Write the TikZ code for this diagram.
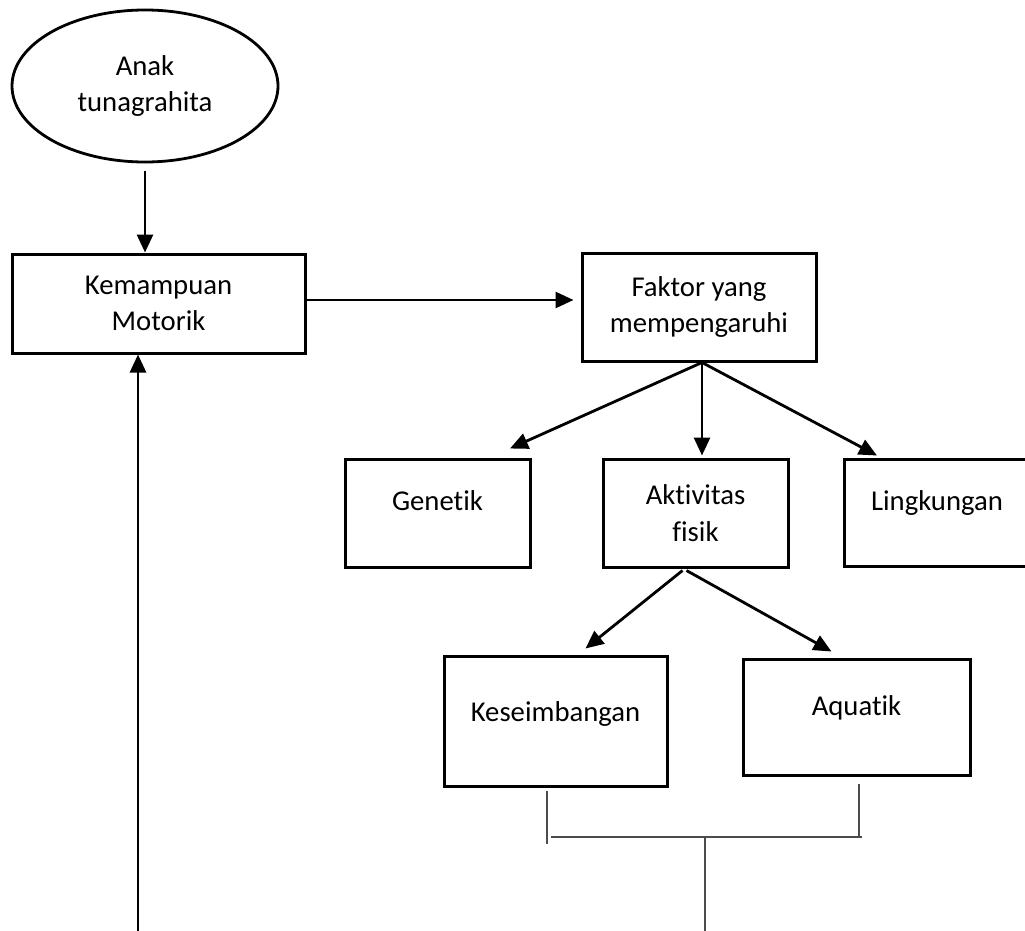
\documentclass[tikz,border=0pt]{standalone}
\usepackage{fontspec}
\setmainfont{Carlito}[Ligatures={NoCommon,NoContextual}]
\usetikzlibrary{arrows.meta,shapes.geometric}
\begin{document}
\begin{tikzpicture}[x=1pt,y=1pt,
  txt/.style={font=\fontsize{28.7}{36.5}\selectfont, align=center},
  boxn/.style={draw, line width=3pt, rectangle, txt, inner sep=0pt},
  arr/.style={line width=2.8pt, -{Triangle[length=18pt,width=16pt]}},
  thinl/.style={line width=1.6pt, draw=black!70}]
\clip (0,0) rectangle (1025,-931);
\fill[white] (0,0) rectangle (1025,-931);

\node[draw, ellipse, line width=2.8pt, minimum width=266pt, minimum height=152pt, txt, inner sep=0pt] (elli) at (145,-86) {Anak\\tunagrahita};
\node[boxn, minimum width=293pt, minimum height=99pt] (kem) at (158.5,-303.5) {Kemampuan\\Motorik};
\node[boxn, minimum width=234pt, minimum height=108pt] (fak) at (699,-307) {Faktor yang\\mempengaruhi};
\node[boxn, minimum width=185pt, minimum height=108pt, text height=20pt, text depth=26pt] (gen) at (437.5,-513) {Genetik};
\node[boxn, minimum width=185pt, minimum height=108pt] (akt) at (695.5,-513) {Aktivitas\\fisik};
\node[boxn, minimum width=185pt, minimum height=107pt, text height=20pt, text depth=24pt] (ling) at (937,-512.5) {Lingkungan};
\node[boxn, minimum width=223pt, minimum height=130pt, text height=20pt, text depth=20pt] (kes) at (555.5,-721) {Keseimbangan};
\node[boxn, minimum width=227pt, minimum height=116pt, text height=20pt, text depth=24pt] (aqu) at (856.5,-717) {Aquatik};

\coordinate (fs) at ([xshift=3pt]fak.south);
\coordinate (hl) at (551,-837);
\coordinate (hr) at (862,-837);
\coordinate (hm) at (705,-837);
\coordinate (bot) at (705,-935);
\coordinate (lb) at (138,-935);

\draw[arr, shorten <=8pt] (elli.south) -- (elli.south |- kem.north);
\draw[arr] ([yshift=3.5pt]kem.east) -- ([yshift=3.5pt,xshift=-7pt]kem.east -| fak.west);
\draw[arr] (fs) -- ([xshift=72.5pt,yshift=9pt]gen.north);
\draw[arr] (fs) -- ([yshift=2pt]fs |- akt.north);
\draw[arr] (fs) -- ([xshift=-60pt,yshift=2pt]ling.north);
\draw[arr] ([xshift=-13pt,yshift=-2pt]akt.south) -- ([xshift=30pt,yshift=6pt]kes.north);
\draw[arr] ([xshift=-9pt,yshift=-2pt]akt.south) -- ([xshift=-25pt,yshift=6pt]aqu.north);
\draw[arr] (lb) -- (lb |- kem.south);

\draw[thinl] ([xshift=-8.5pt,yshift=-3pt]kes.south) -- ++(0,-53);
\draw[thinl] ([xshift=2.5pt,yshift=-7pt]aqu.south) -- ++(0,-53);
\draw[thinl] (hl) -- (hr);
\draw[thinl] (hm) -- (bot);
\end{tikzpicture}
\end{document}
